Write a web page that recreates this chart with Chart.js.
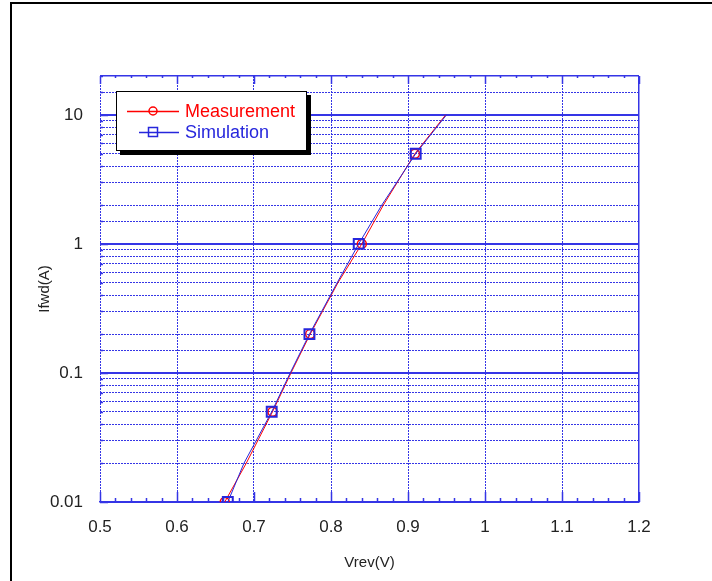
<!DOCTYPE html>
<html lang="en">
<head>
<meta charset="utf-8">
<title>Ifwd vs Vrev</title>
<script src="https://cdn.jsdelivr.net/npm/chart.js"></script>
<style>
  html, body { margin: 0; padding: 0; background: #fff; }
  #wrap { position: absolute; left: 0; top: 0; width: 712px; height: 581px; }
  #frame {
    position: absolute; left: 10px; top: 2px; width: 702px; height: 579px;
    border-left: 2px solid #000; border-top: 2px solid #000; box-sizing: border-box;
  }
  #c { position: absolute; left: 0; top: 0; }
  #legend {
    position: absolute; left: 116px; top: 91px; width: 189px; height: 58px;
    border: 1px solid #000; background: #fff; box-shadow: 4px 4px 0 #000;
    font: 18px "Liberation Sans", Arial, sans-serif;
  }
  .row { position: absolute; left: 0; height: 20px; width: 189px; }
  .row svg { position: absolute; left: 0; top: 0; }
  .row span { position: absolute; left: 68px; top: 0; line-height: 20px; }
</style>
</head>
<body>
<div id="wrap">
  <div id="frame"></div>
  <canvas id="c" width="712" height="581"></canvas>
  <div id="legend"></div>
</div>

<script>
// forward current points (A) and the voltages (V)
const currents   = [0.01, 0.02, 0.05, 0.1, 0.2, 0.5, 1, 2, 5, 10];
const measVolts  = [0.662, 0.690, 0.724, 0.748, 0.773, 0.809, 0.840, 0.868, 0.909, 0.949];
const simVolts   = [0.666, 0.687, 0.723, 0.747, 0.772, 0.808, 0.836, 0.866, 0.910, 0.950];
const markerIdx  = [0, 2, 4, 6, 8];   // points that carry a symbol

const seriesNames  = ['Measurement', 'Simulation'];
const seriesColors = ['#ff0000', '#2626dc'];

const xMajorTicks  = [0.5, 0.6, 0.7, 0.8, 0.9, 1, 1.1, 1.2];
const xTickLabels  = ['0.5', '0.6', '0.7', '0.8', '0.9', '1', '1.1', '1.2'];
const yDecades     = [0.01, 0.1, 1, 10];
const yTickLabels  = ['0.01', '0.1', '1', '10'];

const gridBlue = '#3535e6';
const textCol = '#222';
const fontFam = '"Liberation Sans", Arial, sans-serif';

function near(a, b) { return Math.abs(a - b) < 1e-6 * Math.max(1, Math.abs(b)); }
function xMajorIndex(v) { return xMajorTicks.findIndex(t => near(Math.round(v * 1000) / 1000, t)); }
function yDecadeIndex(v) { return yDecades.findIndex(t => Math.abs(v - t) / t < 1e-6); }

function pts(volts) {
    return currents.map((c, i) => ({ x: volts[i], y: c }));
}
function radii(r) {
    return currents.map((_, i) => markerIdx.includes(i) ? r : 0);
}

// tick marks drawn inward, on the bottom and top edges and the left edge
const innerTicks = {
    id: 'innerTicks',
    afterDraw(chart) {
        const { ctx, chartArea: a } = chart;
        const xs = chart.scales.x, ys = chart.scales.y;
        ctx.save();
        ctx.strokeStyle = gridBlue;
        ctx.lineWidth = 1.5;
        ctx.beginPath();
        xs.ticks.forEach(t => {
            const px = Math.round(xs.getPixelForValue(t.value)) + 0.5;
            const len = xMajorIndex(t.value) >= 0 ? 10 : 4;
            ctx.moveTo(px, a.bottom); ctx.lineTo(px, a.bottom - len);
            ctx.moveTo(px, a.top); ctx.lineTo(px, a.top + len - 2);
        });
        ys.ticks.forEach(t => {
            const py = Math.round(ys.getPixelForValue(t.value)) + 0.5;
            const len = yDecadeIndex(t.value) >= 0 ? 8 : 3;
            ctx.moveTo(a.left, py); ctx.lineTo(a.left + len, py);
        });
        ctx.stroke();
        ctx.restore();
    }
};

const chart = new Chart(document.getElementById('c'), {
    type: 'scatter',
    data: {
        datasets: [
            {
                label: seriesNames[0],
                data: pts(measVolts),
                showLine: true,
                borderColor: seriesColors[0],
                borderWidth: 1,
                tension: 0,
                pointStyle: 'circle',
                pointRadius: radii(4.5),
                pointBorderColor: seriesColors[0],
                pointBackgroundColor: 'rgba(0,0,0,0)',
                pointBorderWidth: 1.5,
                order: 1
            },
            {
                label: seriesNames[1],
                data: pts(simVolts),
                showLine: true,
                borderColor: seriesColors[1],
                borderWidth: 1,
                tension: 0,
                pointStyle: 'rect',
                pointRadius: radii(7),
                pointBorderColor: seriesColors[1],
                pointBackgroundColor: 'rgba(0,0,0,0)',
                pointBorderWidth: 2,
                order: 0
            }
        ]
    },
    options: {
        responsive: false,
        animation: false,
        layout: { padding: { left: 10, right: 73, top: 76, bottom: 0 } },
        plugins: { legend: { display: false }, tooltip: { enabled: false } },
        scales: {
            x: {
                type: 'linear',
                min: 0.5, max: 1.2,
                afterFit: s => { s.height = 79; },
                ticks: {
                    stepSize: 0.02,
                    autoSkip: false,
                    maxRotation: 0,
                    padding: 15,
                    color: textCol,
                    font: { family: fontFam, size: 17 },
                    callback: v => { const i = xMajorIndex(v); return i >= 0 ? xTickLabels[i] : ''; }
                },
                grid: {
                    drawTicks: false,
                    color: ctx => {
                        if (ctx.type !== 'tick') return gridBlue;
                        return xMajorIndex(ctx.tick.value) >= 0 ? gridBlue : 'rgba(0,0,0,0)';
                    },
                    lineWidth: ctx => (ctx.type === 'tick' && near(ctx.tick.value, 1.2)) ? 1.5 : 1
                },
                border: {
                    display: true,
                    color: gridBlue,
                    width: 1.5,
                    dash: ctx => {
                        if (ctx.type !== 'tick') return [];
                        return near(ctx.tick.value, 1.2) ? [] : [2, 1];
                    }
                },
                title: {
                    display: true,
                    text: 'Vrev(V)',
                    color: textCol,
                    font: { family: fontFam, size: 15 },
                    padding: { top: 0, bottom: 9 }
                }
            },
            y: {
                type: 'logarithmic',
                min: 0.01, max: 20,
                afterFit: s => { s.width = 90; },
                ticks: {
                    autoSkip: false,
                    padding: 17,
                    color: textCol,
                    font: { family: fontFam, size: 17 },
                    callback: v => { const i = yDecadeIndex(v); return i >= 0 ? yTickLabels[i] : ''; }
                },
                grid: {
                    drawTicks: false,
                    color: gridBlue,
                    lineWidth: ctx => {
                        if (ctx.type !== 'tick') return 1;
                        const v = ctx.tick.value;
                        if (near(v, 20)) return 1.5;
                        return yDecadeIndex(v) >= 0 ? 2 : 1;
                    }
                },
                border: {
                    display: false,
                    dash: ctx => {
                        if (ctx.type !== 'tick') return [];
                        const v = ctx.tick.value;
                        return (near(v, 20) || yDecadeIndex(v) >= 0) ? [] : [2, 1];
                    }
                },
                title: {
                    display: true,
                    text: 'Ifwd(A)',
                    color: textCol,
                    font: { family: fontFam, size: 15 },
                    padding: { top: 26, bottom: 0 }
                }
            }
        }
    },
    plugins: [innerTicks]
});

// legend box drawn from the series names and colours
const legend = document.getElementById('legend');
chart.data.datasets.forEach((ds, i) => {
    const row = document.createElement('div');
    row.className = 'row';
    row.style.top = (9 + i * 21) + 'px';
    const c = seriesColors[i];
    const marker = i === 0
        ? `<circle cx="36" cy="10" r="4" fill="none" stroke="${c}" stroke-width="1.5"/>`
        : `<rect x="31.5" y="5.5" width="9" height="9" fill="none" stroke="${c}" stroke-width="1.5"/>`;
    const x1 = i === 0 ? 10 : 22;
    row.innerHTML =
        `<svg width="66" height="20"><line x1="${x1}" y1="10.5" x2="62" y2="10.5" stroke="${c}" stroke-width="1.5"/>${marker}</svg>` +
        `<span style="color:${c}">${ds.label}</span>`;
    legend.appendChild(row);
});
</script>
</body>
</html>
